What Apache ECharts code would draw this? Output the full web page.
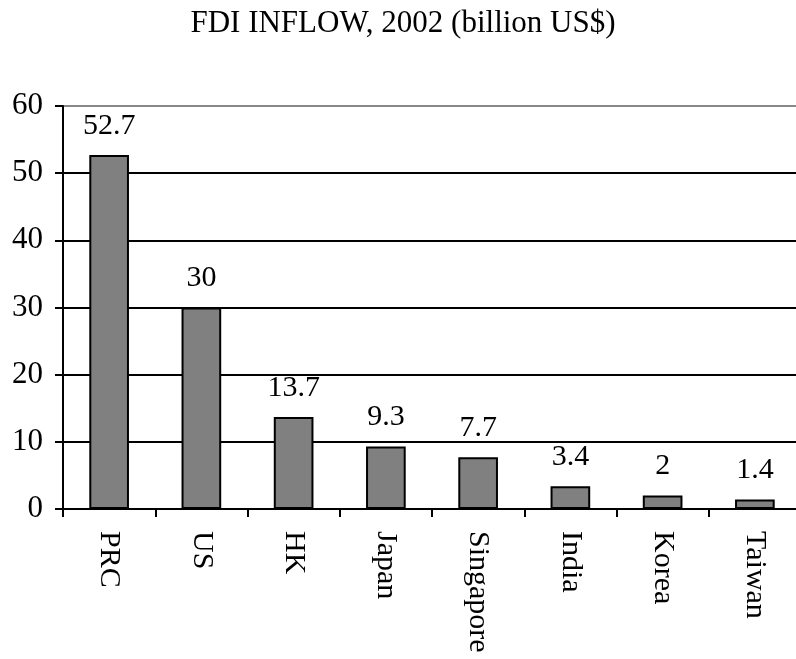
<!DOCTYPE html>
<html>
<head>
<meta charset="utf-8">
<style>
  html, body { margin: 0; padding: 0; background: #ffffff; overflow: hidden; }
  #chart { width: 801px; height: 659px; }
</style>
<script src="https://cdn.jsdelivr.net/npm/echarts@6/dist/echarts.min.js"></script>
</head>
<body>
<div id="chart"></div>
<script>
// FDI inflow by economy, 2002, in billions of US dollars
const economies = ['PRC', 'US', 'HK', 'Japan', 'Singapore', 'India', 'Korea', 'Taiwan'];
const fdiInflow = [52.7, 30, 13.7, 9.3, 7.7, 3.4, 2, 1.4];
const yTicks = [0, 10, 20, 30, 40, 50, 60];

const chart = echarts.init(document.getElementById('chart'), null, { renderer: 'canvas' });

const serif = '"Liberation Serif", "Times New Roman", serif';

chart.setOption({
  animation: false,
  backgroundColor: '#ffffff',
  title: {
    text: 'FDI INFLOW, 2002 (billion US$)',
    left: 398,
    textAlign: 'center',
    top: 3,
    textStyle: { fontFamily: serif, fontSize: 31, fontWeight: 'normal', color: '#000' }
  },
  grid: { left: 63, right: 0, top: 106, bottom: 150, containLabel: false },
  xAxis: {
    type: 'category',
    data: economies,
    axisLine: { show: true, lineStyle: { color: '#000', width: 2 } },
    axisTick: { show: true, length: 8, lineStyle: { color: '#000', width: 2 } },
    axisLabel: {
      rotate: -90,
      margin: 22,
      fontFamily: serif,
      fontSize: 30,
      color: '#000'
    }
  },
  yAxis: {
    type: 'value',
    min: yTicks[0],
    max: yTicks[yTicks.length - 1],
    interval: 10,
    axisLine: { show: true, lineStyle: { color: '#000', width: 2 } },
    axisTick: { show: true, length: 8, lineStyle: { color: '#000', width: 2 } },
    axisLabel: {
      margin: 20,
      fontFamily: serif,
      fontSize: 31,
      color: '#000'
    },
    splitLine: {
      show: true,
      lineStyle: {
        color: ['#000', '#000', '#000', '#000', '#000', '#000', '#888'],
        width: 2
      }
    }
  },
  series: [{
    type: 'bar',
    data: fdiInflow,
    barWidth: '43%',
    itemStyle: { color: '#808080', borderColor: '#000', borderWidth: 2 },
    label: {
      show: true,
      position: 'top',
      distance: 14,
      fontFamily: serif,
      fontSize: 30,
      color: '#000'
    }
  }]
});
</script>
</body>
</html>
